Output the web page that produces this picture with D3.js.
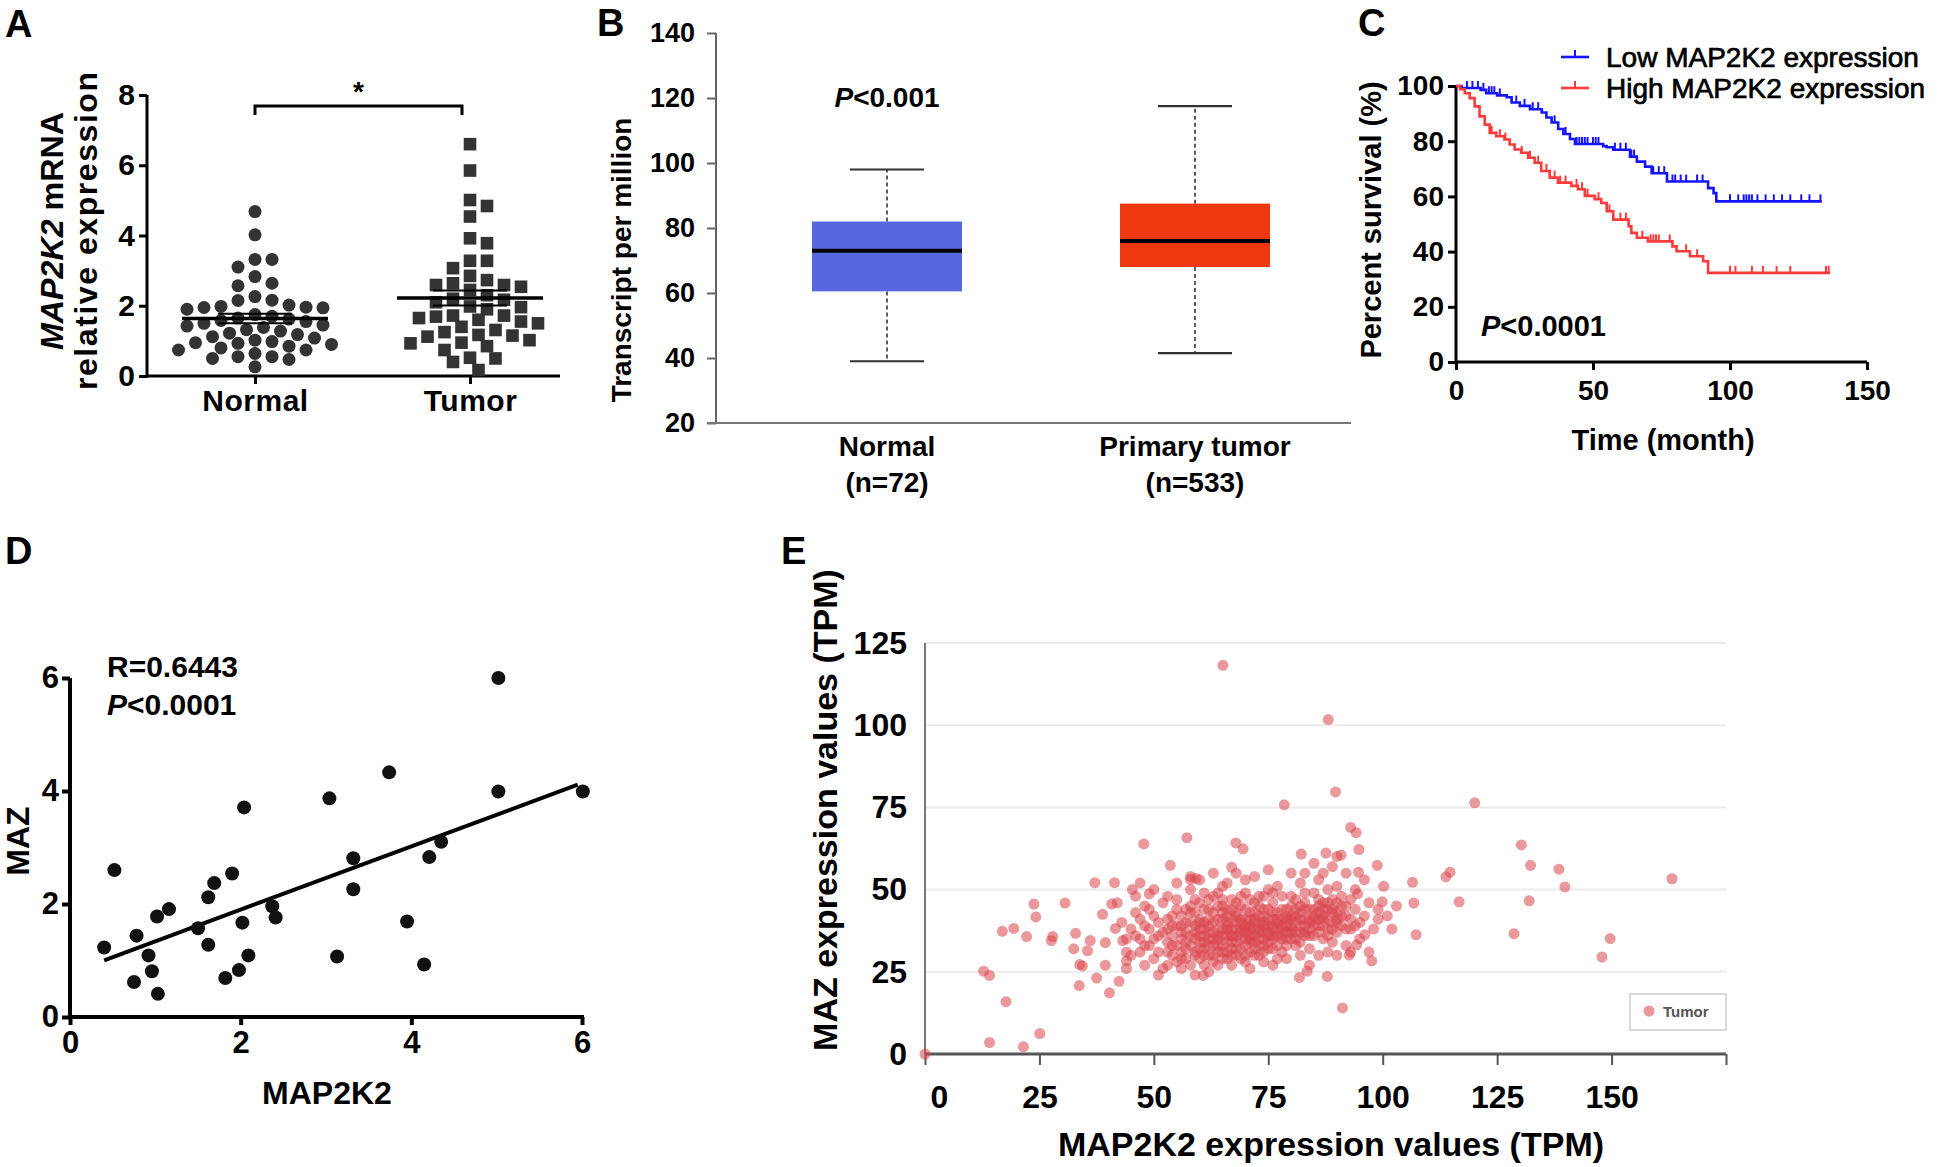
<!DOCTYPE html>
<html><head><meta charset="utf-8">
<script src="https://cdn.jsdelivr.net/npm/d3@7"></script>
<style>body{margin:0;background:#fff}svg{display:block}text{font-family:"Liberation Sans",Arial,Helvetica,sans-serif}</style>
</head><body><svg id="chart" width="1960" height="1167"></svg>
<script>
// ---------- Panel A data ----------
const aCategories = ["Normal", "Tumor"];
const aNormal = [4.68,4.02,3.32,3.32,3.10,2.83,2.64,2.57,2.26,2.16,2.15,2.02,1.98,1.96,1.95,1.94,1.90,1.75,1.70,1.65,1.62,1.58,1.55,1.50,1.45,1.42,1.38,1.32,1.28,1.22,1.18,1.12,1.08,1.02,0.98,0.95,0.93,0.90,0.85,0.80,0.74,0.74,0.64,0.55,0.55,0.50,0.47,0.26];
const aTumor = [6.60,5.85,5.01,4.84,4.54,3.92,3.78,3.28,3.28,3.07,2.85,2.73,2.64,2.59,2.59,2.54,2.45,2.30,2.20,2.17,2.10,1.98,1.96,1.90,1.72,1.72,1.69,1.65,1.60,1.55,1.50,1.40,1.31,1.25,1.17,1.15,1.12,1.02,0.95,0.93,0.85,0.74,0.52,0.50,0.40,0.17];
const aYTicks = [0, 2, 4, 6, 8];
const aBracket = [7.43, 7.69];

// ---------- Panel B data ----------
const bCategories = ["Normal", "Primary tumor"];
const bCounts = ["(n=72)", "(n=533)"];
const bWhiskerLow = [39, 41.5];
const bQ1 = [60.5, 68];
const bMedian = [73, 76];
const bQ3 = [82, 87.5];
const bWhiskerHigh = [98, 117.5];
const bColors = ["#5568e0", "#f03810"];
const bYTicks = [20, 40, 60, 80, 100, 120, 140];

// ---------- Panel C data ----------
const cLowTimes = [0,2,9,11,15,18.5,20.3,23.3,27,31.3,33,34.9,37.3,39.2,41.6,43.4,53.7,55,57.4,63.5,66,69,71.4,77,92,94,95];
const cLowSurv  = [100,99.3,98.6,97.4,96.6,95.9,94,92.8,91.6,90.4,88.6,86.8,84.4,82.6,80.8,79,78.2,77.8,76.9,74.4,72.6,70.8,68.4,65.4,63,61.2,58.2];
const cLowEnd = 133.5;
const cLowCensor = [4,6,8,10,12,13,14,16,22,25,28,30,36,40,44,45,46,47,48,50,51,52,58,60,62,64,65,72,74,76,79,80,82,84,88,90,100,103,105,106,107,108,110,113,116,119,122,126,129,133];
const cHighTimes = [0,1.5,3.2,5,6.8,8.6,10.5,12.3,14.7,17.7,19.6,21.4,23.8,26.3,28.7,31.1,34.2,37.2,42.1,44.5,47,50.6,53,55,57.4,63,64,66,70,79,80.5,85.4,90.2,92];
const cHighSurv  = [100,98.8,97.4,95.6,92.6,89,86,83,81.8,80.6,78.8,77,75.8,74,72.2,69.2,66.8,65,63.8,62.6,60.2,59,57.6,54.6,51.6,49.2,46.8,45,43.7,41.9,40.1,38.3,36.5,32.3];
const cHighEnd = 136.5;
const cHighCensor = [13,16,18,24,27,30,33,36,38,40,44,46,48,52,56,60,62,68,71,72,73,74,78,84,88,100,102,108,112,117,122,135,136];
const cLegend = ["Low MAP2K2 expression", "High MAP2K2 expression"];
const cXTicks = [0, 50, 100, 150];
const cYTicks = [0, 20, 40, 60, 80, 100];

// ---------- Panel D data ----------
const dMAP2K2 = [0.40,0.52,0.75,0.78,0.92,0.96,1.02,1.03,1.16,1.50,1.62,1.62,1.69,1.82,1.90,1.98,2.04,2.02,2.09,2.37,2.41,3.04,3.13,3.32,3.32,3.74,3.95,4.15,4.21,4.35,5.02,5.02,6.01];
const dMAZ    = [1.23,2.60,0.62,1.44,1.09,0.81,1.78,0.41,1.91,1.57,2.12,1.28,2.37,0.69,2.54,0.83,3.71,1.67,1.09,1.96,1.76,3.87,1.07,2.81,2.26,4.33,1.69,0.93,2.83,3.10,6.00,3.99,3.99];
const dFitCoef = [0.78, 0.56];      // intercept, slope
const dFitRange = [0.4, 5.95];
const dTicks = [0, 2, 4, 6];

// ---------- Panel E data ----------
const eOutliers = [[0,0],[12.8,25.2],[14.1,23.9],[14.1,3.5],[17.7,15.9],[16.9,37.3],[19.4,38.2],[21.5,2.2],[25.1,6.2],[22.2,35.7],[23.8,45.6],[24.2,41.7],[27.6,34.5],[27.9,35.7],[30.6,45.9],[32.5,32.0],[32.9,36.7],[33.8,27.2],[34.4,26.8],[33.7,20.8],[35.5,31.4],[36.1,34.5],[37.1,52.1],[37.5,23.1],[38.8,42.5],[39.4,33.9],[39.4,27.0],[40.3,18.6],[40.8,45.6],[41.4,52.1],[41.6,38.2],[42.4,22.1],[43.2,34.5],[44.0,28.3],[45.3,50.0],[47.8,63.9],[49.0,48.7],[53.6,57.4],[57.2,65.8],[58.0,53.1],[59.2,53.4],[60.8,23.9],[67.0,56.8],[67.9,64.2],[69.5,62.4],[78.5,75.8],[82.2,60.8],[81.8,23.3],[83.5,25.2],[88.1,101.7],[65.1,118.2],[89.7,79.7],[87.6,61.1],[90.0,60.1],[90.9,60.5],[87.9,23.6],[91.2,14.0],[93.0,68.9],[94.2,67.3],[94.8,62.2],[94.7,55.3],[94.5,48.7],[98.8,57.4],[100.2,51.0],[99.9,46.3],[96.1,36.3],[97.6,28.3],[92.7,30.1],[94.3,33.2],[106.5,52.2],[106.8,45.9],[107.3,36.3],[113.8,53.9],[114.7,55.3],[116.7,46.3],[120.1,76.4],[128.7,36.6],[130.3,63.6],[132.3,57.4],[132.0,46.6],[138.5,56.2],[139.8,50.8],[147.9,29.5],[149.7,35.1],[163.2,53.3]];
const eCluster = [[45,30],[46,36],[47,41],[48,27],[48,33],[49,38],[49,44],[50,29],[50,35],[51,40],[51,31],[52,46],[52,26],[53,34],[53,38],[54,30],[54,42],[54,36],[55,28],[55,33],[55,47],[56,39],[56,35],[56,31],[57,44],[57,29],[57,37],[58,33],[58,40],[58,27],[58,50],[59,35],[59,31],[59,43],[60,38],[60,29],[60,34],[60,46],[61,32],[61,40],[61,36],[61,27],[62,44],[62,35],[62,30],[62,39],[63,33],[63,37],[63,48],[63,28],[64,41],[64,35],[64,31],[64,45],[65,38],[65,33],[65,29],[65,51],[66,36],[66,42],[66,31],[66,39],[67,34],[67,47],[67,30],[67,38],[68,43],[68,36],[68,32],[68,40],[69,35],[69,29],[69,45],[69,38],[70,41],[70,33],[70,37],[70,49],[71,36],[71,31],[71,43],[71,39],[72,34],[72,46],[72,40],[72,30],[73,37],[73,42],[73,33],[73,48],[74,39],[74,35],[74,44],[74,31],[75,41],[75,37],[75,34],[75,50],[76,38],[76,43],[76,32],[76,46],[77,36],[77,40],[77,29],[78,44],[78,38],[78,35],[78,48],[79,41],[79,33],[79,37],[80,45],[80,39],[80,35],[80,42],[81,47],[81,37],[81,33],[82,43],[82,39],[82,52],[83,36],[83,41],[83,46],[84,38],[84,44],[84,32],[85,41],[85,49],[85,36],[86,43],[86,39],[86,53],[87,46],[87,35],[87,41],[88,38],[88,44],[88,50],[89,40],[89,34],[89,47],[90,43],[90,37],[90,51],[91,45],[91,39],[92,42],[92,33],[93,47],[93,38],[94,44],[95,40],[96,42],[97,46],[98,38],
[42,46],[43,40],[44,35],[44,26],[46,48],[47,31],[47,52],[48,45],[50,50],[51,24],[53,48],[53,27],[55,52],[56,26],[58,54],[59,24],[60,53],[61,49],[62,25],[63,55],[64,27],[65,47],[66,52],[67,27],[68,55],[70,28],[70,53],[71,26],[72,54],[74,28],[75,56],[76,27],[77,51],[79,29],[80,55],[82,30],[83,55],[84,27],[85,58],[86,30],[87,55],[88,31],[89,57],[90,30],[92,55],[93,31],[94,50],[95,35],[96,53],[97,31],[99,44],[99,41],[101,42],[102,38],[103,45]];
const eCore = [[52,37],[53,41],[54,33],[55,39],[55,44],[56,29],[56,42],[57,34],[57,40],[58,36],[58,45],[59,30],[59,39],[59,47],[60,32],[60,41],[60,36],[61,44],[61,30],[61,38],[62,33],[62,41],[62,47],[63,35],[63,30],[63,43],[64,38],[64,33],[64,49],[65,41],[65,36],[65,31],[65,45],[66,34],[66,38],[66,44],[66,29],[67,41],[67,36],[67,32],[67,44],[68,38],[68,34],[68,46],[68,30],[69,41],[69,37],[69,32],[69,48],[70,35],[70,39],[70,44],[70,30],[71,41],[71,34],[71,47],[71,38],[72,36],[72,43],[72,32],[72,38],[73,40],[73,35],[73,45],[73,30],[74,37],[74,42],[74,33],[74,48],[75,39],[75,44],[75,32],[76,36],[76,41],[76,35],[76,49],[77,38],[77,43],[77,33],[78,41],[78,36],[78,31],[79,44],[79,39],[79,35],[80,37],[80,41],[80,48],[81,40],[81,35],[81,44],[82,37],[82,41],[82,34],[83,39],[83,44],[83,49],[84,41],[84,36],[85,39],[85,44],[86,37],[86,41],[86,47],[87,39],[87,44],[88,41],[88,36],[89,43],[89,38],[90,40],[90,46],[91,42],[92,38],[92,45],[93,41],[94,39],
[54,39],[56,37],[57,32],[58,43],[59,37],[60,40],[61,34],[62,37],[63,40],[64,36],[65,43],[66,40],[67,36],[68,42],[69,40],[70,38],[71,35],[72,41],[73,38],[74,40],[75,36],[76,39],[77,41],[78,39],[79,42],[80,38],[81,42],[82,45],[83,37],[84,40],[85,42],[86,45],[87,42],[88,46],[89,44],[90,41],[91,48],[53,31],[51,36],[50,42],[49,33],[48,39],[47,35],[46,43],[45,38],[44,31]];
const eXTicks = [0, 25, 50, 75, 100, 125, 150];
const eYTicks = [0, 25, 50, 75, 100, 125];

// ---------- drawing ----------
const svg = d3.select("#chart");
svg.append("rect").attr("width", 1960).attr("height", 1167).attr("fill", "#fff");
const intFmt = d3.format("d");

function styleAxis(g, o) {
  g.selectAll("path.domain").remove();
  g.selectAll(".tick line").attr("stroke", o.stroke || "#000").attr("stroke-width", o.width || 3);
  g.selectAll(".tick text").attr("font-size", o.fontSize || 26).attr("font-weight", o.weight || "bold")
    .attr("fill", o.color || "#000");
}
function letter(t, x, y) {
  svg.append("text").attr("x", x).attr("y", y).attr("font-size", 38).attr("font-weight", "bold").text(t);
}
function pText(g, x, y, size, rest, anchor) {
  const t = g.append("text").attr("x", x).attr("y", y).attr("font-size", size).attr("font-weight", "bold")
    .attr("text-anchor", anchor || "start");
  t.append("tspan").attr("font-style", "italic").text("P");
  t.append("tspan").text(rest);
  return t;
}

// ===== Panel A =====
letter("A", 5, 37);
const gA = svg.append("g");
const aX = d3.scalePoint().domain(aCategories).range([255, 470]);
const aY = d3.scaleLinear().domain([0, 8]).range([376, 95]);
const aYAx = gA.append("g").attr("transform", "translate(147,0)")
  .call(d3.axisLeft(aY).tickValues(aYTicks).tickFormat(intFmt).tickSize(8).tickPadding(4));
styleAxis(aYAx, {fontSize: 30});
const aXAx = gA.append("g").attr("transform", "translate(0,376)")
  .call(d3.axisBottom(aX).tickSize(8).tickPadding(6));
styleAxis(aXAx, {fontSize: 30});
aXAx.selectAll(".tick text").attr("letter-spacing", 0.5);
gA.append("line").attr("x1", 147).attr("x2", 147).attr("y1", aY(8)).attr("y2", aY(0) + 1.5).attr("stroke", "#000").attr("stroke-width", 3);
gA.append("line").attr("x1", 147).attr("x2", 560).attr("y1", aY(0)).attr("y2", aY(0)).attr("stroke", "#000").attr("stroke-width", 3);

function swarm(values, yScale, cx, step, minDist) {
  const pts = values.map(v => ({v, y: yScale(v)})).sort((a, b) => a.y - b.y);
  const placed = [];
  pts.forEach(p => {
    for (let k = 0; k < 60; k++) {
      const off = k === 0 ? 0 : (k % 2 ? 1 : -1) * Math.ceil(k / 2) * step;
      const x = cx + off;
      if (placed.every(q => Math.hypot(q.x - x, q.y - p.y) >= minDist)) { p.x = x; placed.push(p); break; }
    }
  });
  return pts;
}
const nPts = swarm(aNormal, aY, aX("Normal"), 8.5, 13);
gA.selectAll("circle.n").data(nPts).join("circle").attr("cx", d => d.x).attr("cy", d => d.y).attr("r", 6.5).attr("fill", "#333");
const tPts = swarm(aTumor, aY, aX("Tumor"), 8.5, 13.5);
gA.selectAll("rect.t").data(tPts).join("rect").attr("x", d => d.x - 6.3).attr("y", d => d.y - 6.3).attr("width", 12.6).attr("height", 12.6).attr("fill", "#333");
[[aNormal, "Normal"], [aTumor, "Tumor"]].forEach(([vals, c]) => {
  const m = d3.mean(vals), se = d3.deviation(vals) / Math.sqrt(vals.length), cx = aX(c);
  gA.append("line").attr("x1", cx - 73).attr("x2", cx + 73).attr("y1", aY(m)).attr("y2", aY(m)).attr("stroke", "#000").attr("stroke-width", 3.5);
  [m - se, m + se].forEach(v => gA.append("line").attr("x1", cx - 37).attr("x2", cx + 37).attr("y1", aY(v)).attr("y2", aY(v)).attr("stroke", "#000").attr("stroke-width", 2));
});
gA.append("path").attr("fill", "none").attr("stroke", "#000").attr("stroke-width", 3)
  .attr("d", `M${aX("Normal")},${aY(aBracket[0])}V${aY(aBracket[1])}H${aX("Tumor") - 8}V${aY(aBracket[0])}`);
gA.append("text").attr("x", (aX("Normal") + aX("Tumor") - 8) / 2).attr("y", 101).attr("text-anchor", "middle").attr("font-size", 28).attr("font-weight", "bold").text("*");
const aLab = gA.append("g").attr("transform", "translate(52,231) rotate(-90)");
const aL1 = aLab.append("text").attr("text-anchor", "middle").attr("dy", "0.35em").attr("font-size", 32).attr("font-weight", "bold")
  .attr("textLength", 238).attr("lengthAdjust", "spacingAndGlyphs");
aL1.append("tspan").attr("font-style", "italic").text("MAP2K2");
aL1.append("tspan").text(" mRNA");
aLab.append("text").attr("y", 34).attr("text-anchor", "middle").attr("dy", "0.35em").attr("font-size", 32).attr("font-weight", "bold")
  .attr("textLength", 318).attr("lengthAdjust", "spacing").text("relative expression");

// ===== Panel B =====
letter("B", 597, 36);
const gB = svg.append("g");
const bX = d3.scalePoint().domain(bCategories).range([887, 1195]);
const bY = d3.scaleLinear().domain([20, 140]).range([423, 33]);
const bYAx = gB.append("g").attr("transform", "translate(716,0)")
  .call(d3.axisLeft(bY).tickValues(bYTicks).tickFormat(intFmt).tickSize(9).tickPadding(12));
styleAxis(bYAx, {stroke: "#666", width: 2, fontSize: 27});
gB.append("line").attr("x1", 716).attr("x2", 716).attr("y1", bY(140)).attr("y2", bY(20)).attr("stroke", "#666").attr("stroke-width", 2);
gB.append("line").attr("x1", 707).attr("x2", 1351).attr("y1", bY(20)).attr("y2", bY(20)).attr("stroke", "#777").attr("stroke-width", 2);
bCategories.forEach((c, i) => {
  const cx = bX(c);
  gB.append("line").attr("x1", cx).attr("x2", cx).attr("y1", bY(bQ3[i])).attr("y2", bY(bWhiskerHigh[i])).attr("stroke", "#333").attr("stroke-width", 1.6).attr("stroke-dasharray", "4,3");
  gB.append("line").attr("x1", cx).attr("x2", cx).attr("y1", bY(bQ1[i])).attr("y2", bY(bWhiskerLow[i])).attr("stroke", "#333").attr("stroke-width", 1.6).attr("stroke-dasharray", "4,3");
  [bWhiskerHigh[i], bWhiskerLow[i]].forEach(v => gB.append("line").attr("x1", cx - 37).attr("x2", cx + 37).attr("y1", bY(v)).attr("y2", bY(v)).attr("stroke", "#333").attr("stroke-width", 2.2));
  gB.append("rect").attr("x", cx - 75).attr("width", 150).attr("y", bY(bQ3[i])).attr("height", bY(bQ1[i]) - bY(bQ3[i])).attr("fill", bColors[i]);
  gB.append("line").attr("x1", cx - 75).attr("x2", cx + 75).attr("y1", bY(bMedian[i])).attr("y2", bY(bMedian[i])).attr("stroke", "#000").attr("stroke-width", 4);
  gB.append("text").attr("x", cx).attr("y", 456).attr("text-anchor", "middle").attr("font-size", 28).attr("font-weight", "bold").text(c);
  gB.append("text").attr("x", cx).attr("y", 492).attr("text-anchor", "middle").attr("font-size", 28).attr("font-weight", "bold").text(bCounts[i]);
});
gB.append("text").attr("transform", "translate(621,260) rotate(-90)").attr("text-anchor", "middle").attr("dy", "0.35em").attr("font-size", 28).attr("font-weight", "bold").text("Transcript per million");
pText(gB, 887, 107, 28, "<0.001", "middle");

// ===== Panel C =====
letter("C", 1358, 36);
const gC = svg.append("g");
const cX = d3.scaleLinear().domain([0, 150]).range([1456, 1867]);
const cY = d3.scaleLinear().domain([0, 100]).range([362, 86]);
const cYAx = gC.append("g").attr("transform", "translate(1456,0)").call(d3.axisLeft(cY).tickValues(cYTicks).tickFormat(intFmt).tickSize(8).tickPadding(4));
styleAxis(cYAx, {fontSize: 28});
const cXAx = gC.append("g").attr("transform", "translate(0,362)").call(d3.axisBottom(cX).tickValues(cXTicks).tickFormat(intFmt).tickSize(8).tickPadding(10));
styleAxis(cXAx, {fontSize: 28});
gC.append("line").attr("x1", 1456).attr("x2", 1456).attr("y1", cY(100)).attr("y2", cY(0) + 1.5).attr("stroke", "#000").attr("stroke-width", 3);
gC.append("line").attr("x1", 1456).attr("x2", cX(150)).attr("y1", cY(0)).attr("y2", cY(0)).attr("stroke", "#000").attr("stroke-width", 3);
function survAt(times, surv, t) { let s = surv[0]; times.forEach((tt, i) => { if (tt <= t) s = surv[i]; }); return s; }
const kmLine = d3.line().x(d => cX(d[0])).y(d => cY(d[1])).curve(d3.curveStepAfter);
[[cLowTimes, cLowSurv, cLowEnd, cLowCensor, "#1414ff"], [cHighTimes, cHighSurv, cHighEnd, cHighCensor, "#ff3a3a"]].forEach(([T, S, end, cen, col]) => {
  const pts = T.map((t, i) => [t, S[i]]).concat([[end, S[S.length - 1]]]);
  gC.append("path").attr("d", kmLine(pts)).attr("fill", "none").attr("stroke", col).attr("stroke-width", 2.6);
  cen.forEach(t => {
    const s = survAt(T, S, t);
    gC.append("line").attr("x1", cX(t)).attr("x2", cX(t)).attr("y1", cY(s)).attr("y2", cY(s) - 7).attr("stroke", col).attr("stroke-width", 2);
  });
});
[["#1414ff", 57], ["#ff3a3a", 88]].forEach(([col, y], i) => {
  gC.append("line").attr("x1", 1561).attr("x2", 1589).attr("y1", y).attr("y2", y).attr("stroke", col).attr("stroke-width", 2.6);
  gC.append("line").attr("x1", 1575).attr("x2", 1575).attr("y1", y).attr("y2", y - 7).attr("stroke", col).attr("stroke-width", 2);
  gC.append("text").attr("x", 1606).attr("y", y + 10).attr("font-size", 28).attr("font-weight", "normal").attr("stroke", "#000").attr("stroke-width", 0.7).text(cLegend[i]);
});
gC.append("text").attr("transform", "translate(1371,220) rotate(-90)").attr("text-anchor", "middle").attr("dy", "0.35em").attr("font-size", 29).attr("font-weight", "bold").text("Percent survival (%)");
gC.append("text").attr("x", 1663).attr("y", 450).attr("text-anchor", "middle").attr("font-size", 29).attr("font-weight", "bold").text("Time (month)");
pText(gC, 1481, 336, 29, "<0.0001");

// ===== Panel D =====
letter("D", 5, 564);
const gD = svg.append("g");
const dX = d3.scaleLinear().domain([0, 6]).range([70, 582]);
const dY = d3.scaleLinear().domain([0, 6]).range([1017, 678]);
const dYAx = gD.append("g").attr("transform", "translate(70,0)").call(d3.axisLeft(dY).tickValues(dTicks).tickFormat(intFmt).tickSize(8).tickPadding(3));
styleAxis(dYAx, {width: 4, fontSize: 31});
const dXAx = gD.append("g").attr("transform", "translate(0,1017)").call(d3.axisBottom(dX).tickValues(dTicks).tickFormat(intFmt).tickSize(8).tickPadding(6));
styleAxis(dXAx, {width: 4, fontSize: 31});
gD.append("line").attr("x1", 70).attr("x2", 70).attr("y1", dY(6)).attr("y2", dY(0) + 2).attr("stroke", "#000").attr("stroke-width", 4);
gD.append("line").attr("x1", 68).attr("x2", dX(6) + 2).attr("y1", dY(0)).attr("y2", dY(0)).attr("stroke", "#000").attr("stroke-width", 4);
gD.append("line").attr("x1", dX(dFitRange[0])).attr("x2", dX(dFitRange[1]))
  .attr("y1", dY(dFitCoef[0] + dFitCoef[1] * dFitRange[0])).attr("y2", dY(dFitCoef[0] + dFitCoef[1] * dFitRange[1]))
  .attr("stroke", "#000").attr("stroke-width", 4);
gD.selectAll("circle.d").data(dMAP2K2).join("circle").attr("cx", d => dX(d)).attr("cy", (d, i) => dY(dMAZ[i])).attr("r", 7).attr("fill", "#111");
gD.append("text").attr("x", 107).attr("y", 677).attr("font-size", 30).attr("font-weight", "bold").text("R=0.6443");
pText(gD, 107, 715, 30, "<0.0001");
gD.append("text").attr("transform", "translate(18,841) rotate(-90)").attr("text-anchor", "middle").attr("dy", "0.35em").attr("font-size", 32).attr("font-weight", "bold").text("MAZ");
gD.append("text").attr("x", 327).attr("y", 1104).attr("text-anchor", "middle").attr("font-size", 32).attr("font-weight", "bold").text("MAP2K2");

// ===== Panel E =====
letter("E", 781, 564);
const gE = svg.append("g");
const eX = d3.scaleLinear().domain([0, 175]).range([925, 1726]);
const eY = d3.scaleLinear().domain([0, 125]).range([1054, 643]);
eYTicks.filter(v => v > 0).forEach(v => gE.append("line").attr("x1", 925).attr("x2", 1726).attr("y1", eY(v)).attr("y2", eY(v)).attr("stroke", "#ebebeb").attr("stroke-width", 2));
const eYAx = gE.append("g").attr("transform", "translate(925,0)").call(d3.axisLeft(eY).tickValues(eYTicks).tickFormat(intFmt).tickSize(0).tickPadding(18));
styleAxis(eYAx, {fontSize: 32});
const eXAx = gE.append("g").attr("transform", "translate(0,1054)").call(d3.axisBottom(eX).tickValues(eXTicks.concat([175])).tickFormat(intFmt).tickSize(11).tickPadding(20));
styleAxis(eXAx, {stroke: "#555", width: 2, fontSize: 32});
eXAx.selectAll(".tick text").filter(d => d === 175).remove();
eXAx.selectAll(".tick text").filter(d => d === 0).attr("dx", 14);
gE.append("line").attr("x1", 925).attr("x2", 925).attr("y1", eY(125)).attr("y2", eY(0)).attr("stroke", "#777").attr("stroke-width", 2);
gE.append("line").attr("x1", 925).attr("x2", 1726).attr("y1", eY(0)).attr("y2", eY(0)).attr("stroke", "#555").attr("stroke-width", 3);
gE.selectAll("circle.e").data(eCluster.concat(eCore, eOutliers)).join("circle").attr("cx", d => eX(d[0])).attr("cy", d => eY(d[1])).attr("r", 5.5).attr("fill", "#d9434b").attr("fill-opacity", 0.55);
gE.append("rect").attr("x", 1630).attr("y", 994).attr("width", 96).attr("height", 36).attr("fill", "#fff").attr("stroke", "#ccc").attr("stroke-width", 1.5);
gE.append("circle").attr("cx", 1649).attr("cy", 1011).attr("r", 5.5).attr("fill", "#d9434b").attr("fill-opacity", 0.55);
gE.append("text").attr("x", 1663).attr("y", 1017).attr("font-size", 15).attr("font-weight", "bold").attr("fill", "#555").text("Tumor");
gE.append("text").attr("transform", "translate(825,810) rotate(-90)").attr("text-anchor", "middle").attr("dy", "0.35em").attr("font-size", 34).attr("font-weight", "bold").text("MAZ expression values (TPM)");
gE.append("text").attr("x", 1331).attr("y", 1156).attr("text-anchor", "middle").attr("font-size", 34).attr("font-weight", "bold").text("MAP2K2 expression values (TPM)");
</script></body></html>
